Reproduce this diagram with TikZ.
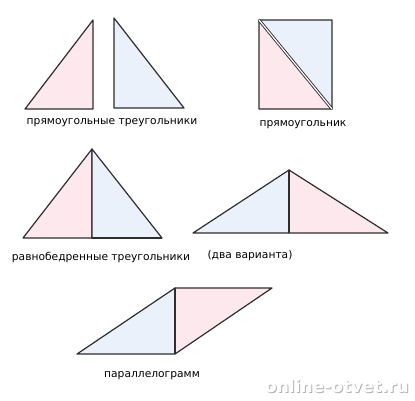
\documentclass[tikz,border=0pt]{standalone}
\usepackage{fontspec}
\setmainfont{DejaVu Sans}
\definecolor{pk}{HTML}{FDE8EE}
\definecolor{bl}{HTML}{EAF1FB}
\definecolor{ln}{HTML}{2E2E2E}
\begin{document}
\begin{tikzpicture}[x=1pt,y=-1pt,
  piece/.style={draw=ln,line width=1.2pt,line join=round},
  lbl/.style={font=\fontsize{10.7}{12}\selectfont,text=black,inner sep=0pt},
  wm/.style={font=\fontsize{17}{19}\selectfont\bfseries,text=white,inner sep=0pt}]
\useasboundingbox (0,0) rectangle (415,400);
\fill[white] (0,0) rectangle (415,400);
% right triangles
\filldraw[piece,fill=pk] (25,109) -- (93,20) -- (93,109) -- cycle;
\filldraw[piece,fill=bl] (114,18) -- (114,108) -- (184,108) -- cycle;
\node[lbl] (l1) at (112,123) {прямоугольные треугольники};
% rectangle
\filldraw[piece,fill=pk] (259,20) -- (332,109) -- (259,109) -- cycle;
\filldraw[piece,fill=bl] (259,20) -- (332,20) -- (332,109) -- cycle;
\draw[ln,line width=0.9pt,double=white,double distance=1.2pt] (259,20) -- (332,109);
\node[lbl] (l2) at (303,125) {прямоугольник};
% isosceles
\filldraw[piece,fill=pk] (23,238) -- (92,149) -- (92,238) -- cycle;
\filldraw[piece,fill=bl] (92,149) -- (162,238) -- (92,238) -- cycle;
\draw[ln,line width=1.8pt] (92,238) -- (162,238);
\node[lbl] (l3) at (101,257) {равнобедренные треугольники};
% wide
\filldraw[piece,fill=bl] (193,233) -- (289,170) -- (289,233) -- cycle;
\filldraw[piece,fill=pk] (289,170) -- (388,233) -- (289,233) -- cycle;
\draw[ln,line width=2pt] (289,170) -- (289,233);
\node[lbl] (l4) at (250,256) {(два варианта)};
% parallelogram
\filldraw[piece,fill=bl] (77,354) -- (175,288) -- (175,354) -- cycle;
\filldraw[piece,fill=pk] (175,288) -- (272,288) -- (175,354) -- cycle;
\draw[ln,line width=2pt] (175,288) -- (175,354);
\node[lbl] (l5) at (152,376) {параллелограмм};
% watermark
\node[wm,text=gray!60] at (338,387.2) {online-otvet.ru};
\node[wm] (w) at (337,386) {online-otvet.ru};
\end{tikzpicture}
\end{document}
